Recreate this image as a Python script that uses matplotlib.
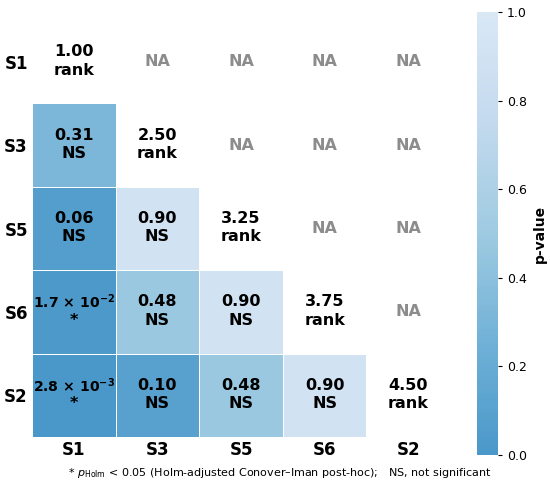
import numpy as np
import matplotlib
matplotlib.use("Agg")
import matplotlib.pyplot as plt
from matplotlib.colors import LinearSegmentedColormap

plt.rcParams["mathtext.default"] = "bf"

groups = ["S1", "S3", "S5", "S6", "S2"]
mean_ranks = [1.00, 2.50, 3.25, 3.75, 4.50]
# lower-triangle p-values (row i, col j, j < i)
p_S3 = [0.31]
p_S5 = [0.06, 0.90]
p_S6 = [0.017, 0.48, 0.90]
p_S2 = [0.0028, 0.10, 0.48, 0.90]
p_rows = [[], p_S3, p_S5, p_S6, p_S2]
alpha = 0.05

n = len(groups)
M = np.full((n, n), np.nan)
for i, row in enumerate(p_rows):
    for j, v in enumerate(row):
        M[i, j] = v

base = plt.get_cmap("Blues")
cmap = LinearSegmentedColormap.from_list("tb", [base(x) for x in np.linspace(0.6, 0.15, 256)])

fig = plt.figure(figsize=(5.5, 4.87), dpi=100)
ax = fig.add_axes([32/550, 1-437/487, 418/550, 417/487])
cax = fig.add_axes([477/550, 1-455/487, 21/550, 443/487])

Mm = np.ma.masked_invalid(M)
mesh = ax.pcolormesh(np.arange(n+1), np.arange(n+1), Mm, cmap=cmap, vmin=0, vmax=1,
                     edgecolor="white", linewidth=0.7)
ax.set_xlim(0, n)
ax.set_ylim(n, 0)
ax.set_xticks(np.arange(n) + 0.5)
ax.set_yticks(np.arange(n) + 0.5)
ax.set_xticklabels(groups, fontsize=12, fontweight="bold")
ax.set_yticklabels(groups, fontsize=12, fontweight="bold", rotation=0)
ax.tick_params(length=0, pad=3)
for s in ax.spines.values():
    s.set_visible(False)

fs = 11.5

def fmt(v):
    if v >= 0.05:
        return f"{v:.2f}", fs
    e = int(np.floor(np.log10(v)))
    m = v / 10**e
    return r"$%.1f\,\times\,10^{%d}$" % (m, e), 10.1

for i in range(n):
    for j in range(n):
        if j == i:
            ax.text(j+0.5, i+0.38, f"{mean_ranks[i]:.2f}", ha="center", va="center",
                    fontsize=fs, fontweight="bold", color="black")
            ax.text(j+0.5, i+0.6, "rank", ha="center", va="center",
                    fontsize=fs, fontweight="bold", color="black")
        elif j > i:
            ax.text(j+0.5, i+0.5, "NA", ha="center", va="center",
                    fontsize=fs, fontweight="bold", color="#8c8c8c")
        else:
            v = M[i, j]
            top, tfs = fmt(v)
            lab = "*" if v < alpha else "NS"
            ax.text(j+0.5, i+0.38, top, ha="center", va="center",
                    fontsize=tfs, fontweight="bold", color="black")
            ax.text(j+0.5, i+0.6, lab, ha="center", va="center",
                    fontsize=fs, fontweight="bold", color="black")

cb = fig.colorbar(mesh, cax=cax)
cb.outline.set_visible(False)
cb.set_ticks([0, 0.2, 0.4, 0.6, 0.8, 1.0])
cb.ax.tick_params(labelsize=9, length=3)
cb.set_label("p-value", fontsize=10, fontweight="bold")

fig.text(280/550, 1-473/487,
         r"* $\mathit{p}_{\mathrm{Holm}}$ < 0.05 (Holm-adjusted Conover–Iman post-hoc);   NS, not significant",
         ha="center", va="center", fontsize=8)

fig.savefig("out.png", dpi=100)
